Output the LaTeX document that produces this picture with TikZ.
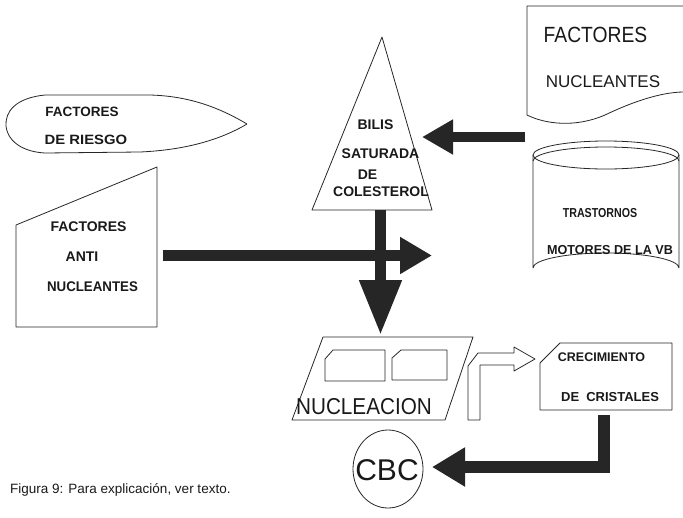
\documentclass[tikz,border=0pt]{standalone}
\usepackage{fontspec}
\setmainfont{Liberation Sans}
\usetikzlibrary{arrows.meta}
\newcommand{\fs}[1]{\fontsize{#1}{#1}\selectfont}
\begin{document}
\begin{tikzpicture}[x=1pt,y=-1pt,
  outl/.style={draw=black!85, line width=0.8pt, line join=round},
  lb/.style={inner sep=0pt, text=black!90},
  blk/.style={draw=black!85, line width=#1, line join=miter},
]
\useasboundingbox (0,0) rectangle (683,517);

% ---- Factores de riesgo (leaf)
\draw[outl] (247,124) .. controls (215,105) and (185,96) .. (150,95) -- (45,95)
  .. controls (15,98) and (5,112) .. (6,126) .. controls (8,143) and (25,152) .. (45,153)
  -- (140,152) .. controls (185,150) and (220,140) .. (247,124);
\node[lb, font=\bfseries\fs{13.5}] (riesgoA) at (82,112) {FACTORES};
\node[lb, font=\bfseries\fs{13.5}] (riesgoB) at (86,140) {\scalebox{1.1}[1]{DE RIESGO}};

% ---- Triangle
\draw[outl] (382,37) -- (432,210) -- (312,210) -- cycle;
\coordinate (tribase) at (380.5,210);
\node[lb, font=\bfseries\fs{14}] (bilisA) at (375.5,125) {BILIS};
\node[lb, font=\bfseries\fs{14}] (bilisB) at (380.5,154) {SATURADA};
\node[lb, font=\bfseries\fs{14}] (bilisC) at (367.5,175) {DE};
\node[lb, font=\bfseries\fs{14}] (bilisD) at (381,192) {COLESTEROL};
\coordinate (triright) at (422,137);

% ---- Factores nucleantes (document)
\draw[outl] (684,6) -- (527,6) -- (527,115) .. controls (545,124) and (575,128) .. (605,115)
  .. controls (630,103) and (660,92) .. (684,92);
\node[lb, font=\fs{22}] (nucA) at (595.5,35) {\scalebox{0.876}[1]{FACTORES}};
\node[lb, font=\fs{17}] (nucB) at (603,82) {NUCLEANTES};
\coordinate (nucleft) at (525,137);

% ---- Cylinder
\draw[outl] (606,155) ellipse [x radius=73, y radius=14];
\draw[outl] (533,161) arc[start angle=180, end angle=360, x radius=73, y radius=14];
\draw[outl] (533,155) -- (533,268) arc[start angle=180, end angle=360, x radius=73, y radius=15] -- (679,155);
\node[lb, font=\bfseries\fs{13}] (trasA) at (600,213) {\scalebox{0.82}[1]{TRASTORNOS}};
\node[lb, font=\bfseries\fs{13}] (trasB) at (610,250) {\scalebox{0.97}[1]{MOTORES DE LA VB}};

% ---- Factores anti nucleantes
\draw[outl] (16,225) -- (157,167) -- (157,327) -- (16,327) -- cycle;
\node[lb, font=\bfseries\fs{14}] (antiA) at (88.5,227) {FACTORES};
\node[lb, font=\bfseries\fs{14}] (antiB) at (82,257) {ANTI};
\node[lb, font=\bfseries\fs{14}] (antiC) at (92.5,287) {\scalebox{0.95}[1]{NUCLEANTES}};
\coordinate (hstart) at (163,255.5);
\coordinate (hend) at (432,255.5);

% ---- Nucleacion
\draw[outl] (323,337) -- (473,337) -- (445,420) -- (292,420) -- cycle;
\coordinate (nuctop) at (380.5,335);
\draw[outl] (325,359) -- (333,350) -- (385,350) -- (385,381) -- (325,381) -- cycle;
\draw[outl] (392,358) -- (401,350) -- (447,350) -- (447,380) -- (392,380) -- cycle;
\node[lb, font=\fs{23}] (nucl) at (364,407) {\scalebox{0.9}[1]{NUCLEACION}};

% ---- Bent hollow arrow
\draw[outl] (468,420) -- (468,366) -- (478,353) -- (514,353) -- (514,347) -- (535,359)
  -- (514,371) -- (514,365) -- (480,365) -- (480,420) -- cycle;

% ---- Crecimiento de cristales
\draw[outl] (540,363) -- (560,343) -- (672,343) -- (672,410) -- (540,410) -- cycle;
\node[lb, font=\bfseries\fs{12.5}] (crecA) at (601.5,357) {CRECIMIENTO};
\node[lb, font=\bfseries\fs{13}, anchor=west] (crecB) at (561,397) {DE\hspace{7pt}CRISTALES};
\coordinate (crecbot) at (604,415);

% ---- CBC
\draw[outl] (388,469) ellipse [x radius=35, y radius=39];
\node[lb, font=\fs{30}] (cbc) at (387,470) {CBC};
\coordinate (cbcright) at (432,467);

% ---- thick arrows
\draw[blk=11pt, -{Triangle[length=55pt,width=40pt]}] (tribase) -- (nuctop);
\draw[blk=11pt, -{Triangle[length=32pt,width=35pt]}] (hstart) -- (hend);
\draw[blk=10pt, -{Triangle[length=31pt,width=33pt]}] (nucleft) -- (triright);
\draw[blk=12pt, -{Triangle[length=33pt,width=37pt]}] (crecbot) |- (cbcright);

% ---- caption
\node[lb, font=\fs{13.5}, anchor=west] (cap) at (10,490) {Figura 9: Para explicación, ver texto.};
\end{tikzpicture}
\end{document}
